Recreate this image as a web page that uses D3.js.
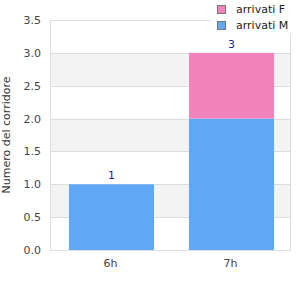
<!DOCTYPE html>
<html><head><meta charset="utf-8">
<script src="https://cdn.jsdelivr.net/npm/d3@7"></script>
<style>body{margin:0;background:#fff}svg{display:block;font-family:"DejaVu Sans",sans-serif}</style>
</head><body>
<script>
const categories = ["6h", "7h"];
const seriesM = [1, 2];
const seriesF = [0, 1];
const totals = [1, 3];
const yTicks = [0, 0.5, 1, 1.5, 2, 2.5, 3, 3.5];
const seriesNames = ["arrivati F", "arrivati M"];
const colors = {M: "#60a8f4", F: "#f283bb"};

const W = 300, H = 300;
const m = {left: 50, right: 9, top: 20, bottom: 50};
const svg = d3.select("body").append("svg").attr("width", W).attr("height", H);
const x = d3.scaleBand().domain(categories).range([50, 293]).paddingInner(0.2917).paddingOuter(0.158);
const y = d3.scaleLinear().domain([0, 3.5]).range([H - m.bottom, m.top]);

const g = svg.append("g");
for (let i = 0; i < yTicks.length - 1; i++) {
  if (i % 2 === 1) {
    g.append("rect").attr("x", m.left).attr("width", W - m.right - m.left)
      .attr("y", y(yTicks[i + 1])).attr("height", y(yTicks[i]) - y(yTicks[i + 1]))
      .attr("fill", "#f3f3f3");
  }
}
g.selectAll("line.grid").data(yTicks).join("line")
  .attr("x1", m.left).attr("x2", W - m.right)
  .attr("y1", d => Math.round(y(d)) + 0.5).attr("y2", d => Math.round(y(d)) + 0.5)
  .attr("stroke", "#dddddd");
svg.append("rect").attr("x", m.left + 0.5).attr("y", m.top + 0.5)
  .attr("width", W - m.right - m.left - 1).attr("height", H - m.bottom - m.top)
  .attr("fill", "none").attr("stroke", "#dddddd");

svg.selectAll("rect.m").data(categories).join("rect")
  .attr("x", d => x(d)).attr("width", x.bandwidth())
  .attr("y", (d, i) => y(seriesM[i])).attr("height", (d, i) => y(0) - y(seriesM[i]))
  .attr("fill", colors.M);
svg.selectAll("rect.f").data(categories).join("rect")
  .attr("x", d => x(d)).attr("width", x.bandwidth())
  .attr("y", (d, i) => y(seriesM[i] + seriesF[i])).attr("height", (d, i) => y(seriesM[i]) - y(seriesM[i] + seriesF[i]))
  .attr("fill", colors.F);

svg.selectAll("text.tot").data(categories).join("text")
  .attr("x", d => x(d) + x.bandwidth() / 2).attr("y", (d, i) => y(totals[i]) - 5)
  .attr("text-anchor", "middle").attr("font-size", 11).attr("fill", "#1f1f99")
  .text((d, i) => totals[i]);

svg.selectAll("text.yt").data(yTicks).join("text")
  .attr("x", 41).attr("y", d => y(d) + 4)
  .attr("text-anchor", "end").attr("font-size", 11).attr("fill", "#444")
  .text(d => d.toFixed(1));
svg.selectAll("text.xt").data(categories).join("text")
  .attr("x", d => x(d) + x.bandwidth() / 2 - 1).attr("y", H - m.bottom + 17)
  .attr("text-anchor", "middle").attr("font-size", 11).attr("fill", "#444")
  .text(d => d);
svg.append("text").attr("transform", `translate(10,${(m.top + H - m.bottom) / 2}) rotate(-90)`)
  .attr("text-anchor", "middle").attr("font-size", 11).attr("fill", "#333")
  .text("Numero del corridore");

const lg = svg.append("g");
lg.append("rect").attr("x", 210).attr("y", 0).attr("width", 90).attr("height", 33).attr("fill", "#fff");
seriesNames.forEach((n, i) => {
  lg.append("rect").attr("x", 217.5).attr("y", 5.5 + i * 16).attr("width", 8).attr("height", 8)
    .attr("fill", i === 0 ? colors.F : colors.M).attr("stroke", "#777");
  lg.append("text").attr("x", 236).attr("y", 13 + i * 16).attr("font-size", 11).attr("fill", "#222").text(n);
});
</script>
</body></html>
